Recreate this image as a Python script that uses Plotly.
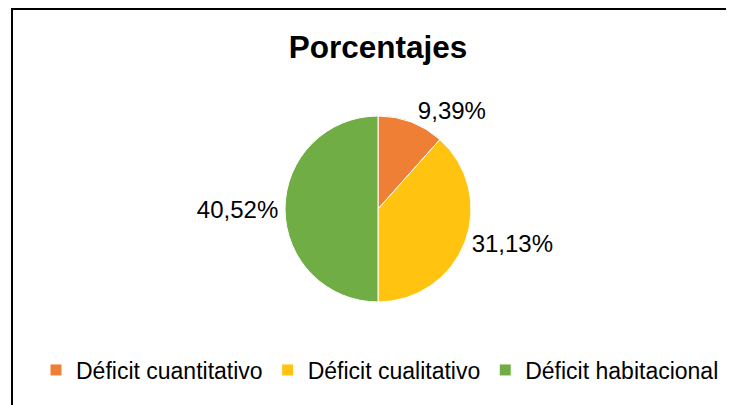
import plotly.graph_objects as go

categories = ["Déficit cuantitativo", "Déficit cualitativo", "Déficit habitacional"]
values = [9.39, 31.13, 40.52]
colors = ["#EF7F35", "#FFC310", "#70AD45"]
title_text = "Porcentajes"

text_labels = [f"{v:.2f}".replace(".", ",") + "%" for v in values]

W, H = 734, 405
OFF = 8  # page body margin offset
cx, cy, r = 378 - OFF, 209 - OFF, 93

fig = go.Figure(go.Pie(
    labels=categories,
    values=values,
    text=text_labels,
    textinfo="text",
    texttemplate="%{text}",
    textposition="outside",
    sort=False,
    direction="clockwise",
    rotation=0,
    marker=dict(colors=colors, line=dict(color="#FFFFFF", width=1)),
    outsidetextfont=dict(family="Liberation Sans, Arial", size=24, color="#000000"),
    domain=dict(x=[(cx - r) / W, (cx + r) / W], y=[(H - cy - r) / H, (H - cy + r) / H]),
    hoverinfo="label+value",
))

fig.update_layout(
    width=W, height=H,
    margin=dict(l=0, r=0, t=0, b=0),
    paper_bgcolor="#FFFFFF",
    plot_bgcolor="#FFFFFF",
    font=dict(family="Liberation Sans, Arial", color="#000000"),
    title=dict(text=f"<b>{title_text}</b>", x=cx / W, xanchor="center",
               y=1 - (47 - OFF) / H, yanchor="middle", yref="paper",
               font=dict(size=31.5, color="#000000", family="Liberation Sans, Arial")),
    showlegend=True,
    legend=dict(orientation="h", x=(380 - OFF) / W, xanchor="center",
                y=1 - (370 - OFF) / H, yanchor="middle",
                font=dict(size=23, color="#000000", family="Liberation Sans, Arial"),
                itemwidth=30, traceorder="normal"),
    shapes=[
        dict(type="line", xref="paper", yref="paper", x0=(11 - OFF) / W, x1=1,
             y0=1 - 1 / H, y1=1 - 1 / H, line=dict(color="#000000", width=2)),
        dict(type="line", xref="paper", yref="paper", x0=(12 - OFF) / W, x1=(12 - OFF) / W,
             y0=0, y1=1, line=dict(color="#000000", width=2)),
    ],
)

fig.write_html("out.html")
